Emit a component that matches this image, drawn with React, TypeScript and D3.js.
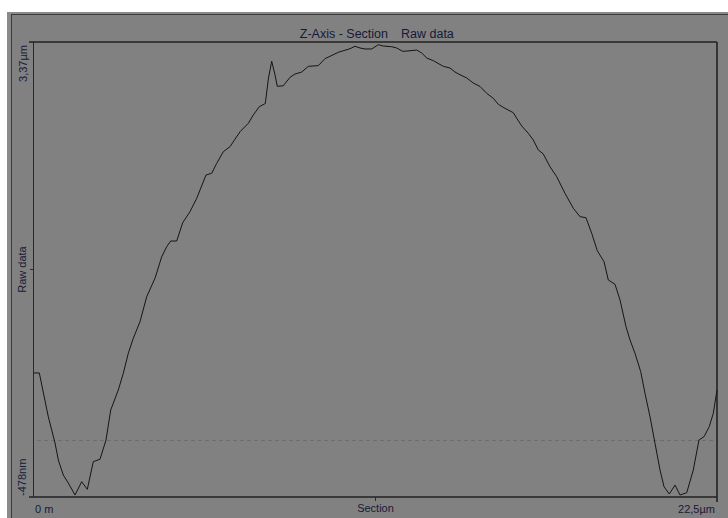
import React from 'react';
import * as d3 from 'd3';

// Section position (µm) and raw height (µm)
const sectionUm = [
  0, 0.175, 0.471, 0.692, 0.801, 0.965, 1.13, 1.351, 1.571, 1.756, 1.953, 2.174, 2.372, 2.527, 2.777,
  2.942, 3.106, 3.271, 3.492, 3.713, 3.986, 4.207, 4.372, 4.503, 4.701, 4.899, 5.139, 5.36, 5.666,
  5.854, 6.019, 6.236, 6.457, 6.786, 7.06, 7.224, 7.422, 7.62, 7.725, 7.831, 7.939, 8.015, 8.213,
  8.433, 8.598, 8.819, 9.036, 9.366, 9.586, 10.025, 10.41, 10.575, 10.74, 10.904, 11.125, 11.342,
  11.507, 11.784, 11.949, 12.146, 12.387, 12.607, 12.772, 12.937, 13.154, 13.484, 13.704, 13.869,
  14.034, 14.254, 14.472, 14.693, 14.913, 15.131, 15.296, 15.516, 15.79, 15.902, 16.066, 16.284,
  16.449, 16.613, 16.778, 16.999, 17.219, 17.493, 17.766, 17.987, 18.184, 18.372, 18.557, 18.778,
  18.919, 19.14, 19.305, 19.503, 19.634, 19.799, 19.987, 20.128, 20.293, 20.458, 20.623, 20.755,
  20.929, 21.117, 21.281, 21.502, 21.719, 21.907, 22.072, 22.246, 22.378, 22.5,
];
const rawDataUm = [
  0.571, 0.571, 0.201, -0.021, -0.165, -0.292, -0.36, -0.461, -0.349, -0.413, -0.179, -0.159, 0.004,
  0.258, 0.427, 0.568, 0.737, 0.864, 1.005, 1.216, 1.372, 1.554, 1.639, 1.687, 1.687, 1.842, 1.935,
  2.048, 2.245, 2.26, 2.344, 2.442, 2.485, 2.611, 2.682, 2.753, 2.823, 2.85, 3.066, 3.207, 3.093,
  2.995, 3.0, 3.071, 3.099, 3.116, 3.164, 3.17, 3.229, 3.283, 3.313, 3.334, 3.319, 3.311, 3.311,
  3.347, 3.336, 3.33, 3.319, 3.291, 3.296, 3.302, 3.277, 3.235, 3.212, 3.164, 3.15, 3.116, 3.093,
  3.066, 3.023, 2.994, 2.936, 2.894, 2.843, 2.809, 2.772, 2.725, 2.66, 2.598, 2.541, 2.457, 2.423,
  2.315, 2.231, 2.09, 1.964, 1.893, 1.884, 1.752, 1.605, 1.512, 1.357, 1.321, 1.188, 0.962, 0.85,
  0.737, 0.582, 0.399, 0.201, -0.024, -0.25, -0.391, -0.453, -0.377, -0.461, -0.442, -0.25, 0.004,
  0.032, 0.117, 0.23, 0.427,
];

const xDomain = [0, 22.5];
const yDomain = [-0.478, 3.37];
const titleMain = 'Z-Axis - Section';
const titleSeries = 'Raw data';
const xStartLabel = '0 m';
const xMidLabel = 'Section';
const xEndLabel = '22,5µm';
const yBottomLabel = '-478nm';
const yMidLabel = 'Raw data';
const yTopLabel = '3,37µm';

const FONT = '"Liberation Sans", Arial, sans-serif';
const TEXT = '#161a38';

export default function App() {
  const W = 728;
  const H = 518;
  const left = 34;
  const right = 717;
  const top = 42;
  const bottom = 497;

  const x = d3.scaleLinear().domain(xDomain).range([left, right]);
  const y = d3.scaleLinear().domain(yDomain).range([bottom, top]);
  const pts: [number, number][] = sectionUm.map((s, i) => [s, rawDataUm[i]]);
  const line = d3
    .line<[number, number]>()
    .x((d) => x(d[0]))
    .y((d) => y(d[1]));

  const xMid = x((xDomain[0] + xDomain[1]) / 2);
  const yMid = y((yDomain[0] + yDomain[1]) / 2);

  return (
    <svg
      width={W}
      height={H}
      style={{ position: 'absolute', left: 0, top: 0, background: '#ffffff' }}
    >
      {/* outer panel */}
      <rect x={7} y={12} width={W - 7} height={H - 12} fill="#8a8a8a" />
      <rect x={11.5} y={14.5} width={W} height={H} fill="#818181" stroke="#3a3a3a" strokeWidth={1} />

      {/* title */}
      <text x={388} y={38} fontFamily={FONT} fontSize={12.5} fill={TEXT} textAnchor="end">
        {titleMain}
      </text>
      <text x={401} y={38} fontFamily={FONT} fontSize={12.5} fill={TEXT} textAnchor="start">
        {titleSeries}
      </text>

      {/* zero reference line */}
      <line
        x1={left + 3}
        x2={right}
        y1={y(0)}
        y2={y(0)}
        stroke="#6c6c6c"
        strokeWidth={1}
        strokeDasharray="4,3"
      />

      {/* frame / axes */}
      <line x1={29} x2={right} y1={top} y2={top} stroke="#222" strokeWidth={1.6} />
      <line x1={29} x2={right} y1={bottom} y2={bottom} stroke="#222" strokeWidth={1.6} />
      <line x1={33.5} x2={33.5} y1={top} y2={bottom} stroke="#2a2a2a" strokeWidth={1} />
      <line x1={right} x2={right} y1={top} y2={bottom + 5} stroke="#222" strokeWidth={1.6} />
      <line x1={30} x2={33.5} y1={yMid} y2={yMid} stroke="#2a2a2a" strokeWidth={1} />
      <line x1={xMid} x2={xMid} y1={bottom} y2={bottom + 4} stroke="#2a2a2a" strokeWidth={1} />

      {/* curve */}
      <path d={line(pts) || ''} fill="none" stroke="#151515" strokeWidth={1} strokeLinejoin="round" />

      {/* y labels */}
      <text
        transform={`translate(27,${top + 3}) rotate(-90)`}
        fontFamily={FONT}
        fontSize={11}
        fill={TEXT}
        textAnchor="end"
      >
        {yTopLabel}
      </text>
      <text
        transform={`translate(26,${yMid}) rotate(-90)`}
        fontFamily={FONT}
        fontSize={11}
        fill={TEXT}
        textAnchor="middle"
      >
        {yMidLabel}
      </text>
      <text
        transform={`translate(26,${bottom - 1}) rotate(-90)`}
        fontFamily={FONT}
        fontSize={11}
        fill={TEXT}
        textAnchor="start"
      >
        {yBottomLabel}
      </text>

      {/* x labels */}
      <text x={35} y={513} fontFamily={FONT} fontSize={11} fill={TEXT} textAnchor="start">
        {xStartLabel}
      </text>
      <text x={xMid} y={512} fontFamily={FONT} fontSize={11} fill={TEXT} textAnchor="middle">
        {xMidLabel}
      </text>
      <text x={715} y={513} fontFamily={FONT} fontSize={11} fill={TEXT} textAnchor="end">
        {xEndLabel}
      </text>
    </svg>
  );
}
